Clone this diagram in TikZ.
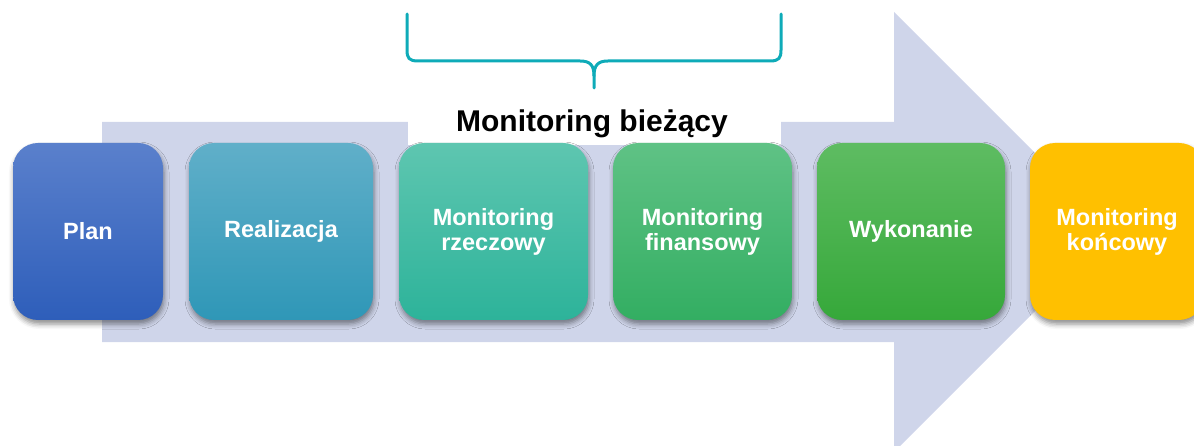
\documentclass[tikz,border=0pt]{standalone}
\usepackage{fontspec}
\setmainfont{Liberation Sans}
\usetikzlibrary{shadows.blur}
\definecolor{arrowc}{HTML}{CFD5EA}
\definecolor{bracec}{HTML}{0EABB8}
\tikzset{
  stagebox/.style={rounded corners=25pt, minimum height=177pt, inner sep=0pt,
    text=white, align=center, font=\fontsize{23.5}{25}\selectfont\bfseries,
    blur shadow={shadow xshift=1pt, shadow yshift=-4pt, shadow blur radius=5pt, shadow opacity=45}},
  titletext/.style={font=\fontsize{30}{32}\selectfont\bfseries, text=black, inner sep=0pt}
}
\begin{document}
\begin{tikzpicture}[x=1pt,y=-1pt]
\useasboundingbox (0,0) rectangle (1194,446);
\clip (0,0) rectangle (1194,446);
% big arrow
\fill[arrowc] (102,122) -- (894,122) -- (894,12) -- (1114,232) -- (894,452) -- (894,342) -- (102,342) -- cycle;
% white panel behind title
\fill[white] (408,110) rectangle (781,145);
\begin{scope}
\clip (400,95) rectangle (790,137.5);
\node[titletext, anchor=base] (title) at (592,132) {Monitoring bieżący};
\end{scope}
% brace
\draw[bracec, line width=3pt, line cap=round]
  (407,14) -- (407,50) .. controls (407,58) and (409,61) .. (418,61) -- (580,61)
  .. controls (590,61) and (594,65) .. (594,76) -- (594,88);
\draw[bracec, line width=3pt, line cap=round]
  (594,76) .. controls (594,65) and (598,61) .. (608,61) -- (770,61)
  .. controls (779,61) and (781,58) .. (781,50) -- (781,14);
% stages
\node[stagebox, minimum width=150pt, top color={rgb,255:red,90;green,128;blue,204}, bottom color={rgb,255:red,46;green,94;blue,186}] (plan) at (88,231.5) {Plan};
\node[stagebox, minimum width=184pt, top color={rgb,255:red,96;green,175;blue,201}, bottom color={rgb,255:red,47;green,151;blue,183}] (real) at (281,231.5) {Realizacja};
\node[stagebox, minimum width=189pt, top color={rgb,255:red,94;green,198;blue,176}, bottom color={rgb,255:red,45;green,179;blue,154}] (rzecz) at (493.5,231.5) {Monitoring\\rzeczowy};
\node[stagebox, minimum width=179pt, top color={rgb,255:red,95;green,194;blue,133}, bottom color={rgb,255:red,51;green,174;blue,98}] (fin) at (702.5,231.5) {Monitoring\\finansowy};
\node[stagebox, minimum width=188pt, top color={rgb,255:red,94;green,188;blue,98}, bottom color={rgb,255:red,54;green,168;blue,58}] (wyk) at (911,231.5) {Wykonanie};
\node[stagebox, minimum width=174pt, fill={rgb,255:red,255;green,192;blue,0}] (konc) at (1117,231.5) {Monitoring\\końcowy};
\end{tikzpicture}
\end{document}
